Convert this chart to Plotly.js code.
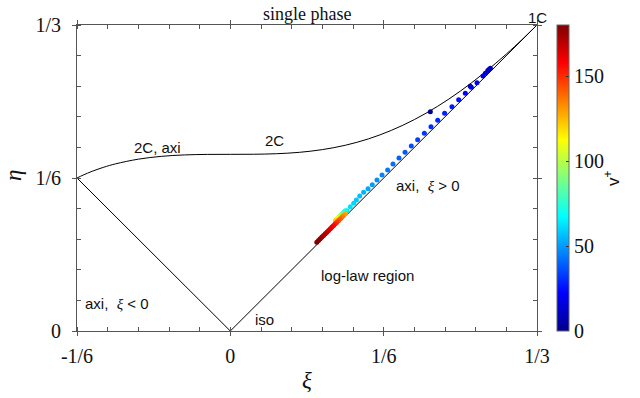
<!DOCTYPE html>
<html>
<head>
<meta charset="utf-8">
<script src="https://cdn.plot.ly/plotly-3.0.1.min.js"></script>
<style>html,body{margin:0;padding:0;background:#fff;}#chart{width:640px;height:398px;}</style>
</head>
<body>
<div id="chart"></div>
<script>
// Two-component limit curve
const xi2C  = [-0.1667,-0.1600,-0.1500,-0.1375,-0.1250,-0.1000,-0.0750,-0.0500,-0.0250,0.0000,0.0250,0.0500,0.0750,0.1000,0.1250,0.1500,0.1750,0.2000,0.2250,0.2500,0.2750,0.3000,0.3167,0.3333];
const eta2C = [0.16667,0.16984,0.17403,0.17843,0.18202,0.18718,0.19025,0.19180,0.19237,0.19245,0.19253,0.19310,0.19463,0.19758,0.20234,0.20925,0.21853,0.23030,0.24458,0.26132,0.28041,0.30172,0.31709,0.33333];
// Axisymmetric boundaries
const xiAxiNeg  = [-1/6, 0];
const etaAxiNeg = [1/6, 0];
const xiAxiPos  = [0, 1/3];
const etaAxiPos = [0, 1/3];
// Data points (ordered by v+)
const vPlus = [0.5,3,8,10,12,14,16,19,21,23,25,27,28,29,30,32,34,36,38,40,42,44,46,48,50,52,54,56,58,60,62,64,
  68,74,80,86,92,98,104,110,116,122,
  128,132,136,140,144,148,152,156,159,162,165,168,170,172,174,176,178,180];
const xiPts = [0.2174,0.2608,0.2826,0.2810,0.2797,0.2772,0.2746,0.2681,0.2620,0.2554,0.2482,0.2409,0.2329,0.2254,0.2181,0.2109,0.2036,0.1967,0.1899,0.1833,0.1768,0.1710,0.1649,0.1594,0.1543,0.1497,0.1449,0.1406,0.1370,0.1341,0.1304,0.1268,
  0.1250,0.1238,0.1226,0.1214,0.1202,0.1190,0.1178,0.1166,0.1154,0.1142,
  0.1249,0.1231,0.1213,0.1195,0.1177,0.1158,0.1140,0.1122,0.1104,0.1086,0.1067,0.1049,0.1031,0.1013,0.0995,0.0976,0.0958,0.0940];
const etaPts = [0.2389,0.2667,0.2862,0.2848,0.2836,0.2807,0.2778,0.2705,0.2655,0.2589,0.2520,0.2443,0.2371,0.2295,0.2225,0.2153,0.2084,0.2015,0.1946,0.1885,0.1819,0.1754,0.1699,0.1645,0.1594,0.1550,0.1511,0.1471,0.1427,0.1391,0.1354,0.1311,
  0.1310,0.1298,0.1286,0.1274,0.1262,0.1250,0.1238,0.1226,0.1214,0.1202,
  0.1277,0.1259,0.1241,0.1223,0.1205,0.1186,0.1168,0.1150,0.1132,0.1114,0.1095,0.1077,0.1059,0.1041,0.1023,0.1004,0.0986,0.0968];
// Tick labels
const tickVals = [-1/6, 0, 1/6, 1/3];
const xTickText = ['-1/6','0','1/6','1/3'];
const yTickVals = [0, 1/6, 1/3];
const yTickText = ['0','1/6','1/3'];
const cbTicks = [0, 50, 100, 150];

const jet = [[0,'rgb(0,0,143)'],[0.125,'rgb(0,0,255)'],[0.375,'rgb(0,255,255)'],[0.625,'rgb(255,255,0)'],[0.875,'rgb(255,0,0)'],[1,'rgb(128,0,0)']];
const serif = 'Liberation Serif, Times New Roman, serif';
const sans = 'Liberation Sans, Arial, sans-serif';
const txt = '#111';

const traces = [
  {x: xi2C, y: eta2C, mode:'lines', line:{color:'#000', width:1, shape:'spline'}, showlegend:false, hoverinfo:'skip'},
  {x: xiAxiNeg, y: etaAxiNeg, mode:'lines', line:{color:'#000', width:1}, showlegend:false},
  {x: xiAxiPos, y: etaAxiPos, mode:'lines', line:{color:'#000', width:1}, showlegend:false},
  {x: xiPts, y: etaPts, mode:'markers', showlegend:false,
   marker:{size:5, color:vPlus, cmin:0, cmax:180, colorscale:jet, line:{width:0},
     colorbar:{x:1.0435, xanchor:'left', y:0.5, yanchor:'middle', len:1, lenmode:'fraction', thickness:12,
       outlinewidth:1, outlinecolor:'#666', tickvals:cbTicks, ticks:'inside', ticklen:3, tickcolor:'#333',
       tickfont:{family:serif, size:20, color:txt}, xpad:0, ypad:0}}}
];

const axisCommon = {showgrid:false, zeroline:false, showline:true, linecolor:'#555', linewidth:1,
  mirror:'ticks', ticks:'outside', ticklen:4, tickcolor:'#555', tickfont:{family:serif, size:20, color:txt}};

const layout = {
  width:640, height:398, margin:{l:77, r:103, t:25, b:67},
  paper_bgcolor:'#fff', plot_bgcolor:'#fff',
  xaxis: Object.assign({}, axisCommon, {range:[-1/6, 1/3], tickvals:tickVals, ticktext:xTickText, ticklabelstandoff:3,
    minor:{ticks:'inside', ticklen:4, dtick:1/30, tick0:-1/6, tickcolor:'#555'}}),
  yaxis: Object.assign({}, axisCommon, {range:[0, 1/3], tickvals:yTickVals, ticktext:yTickText, ticklabelstandoff:7,
    minor:{ticks:'inside', ticklen:4, dtick:1/30, tick0:0, tickcolor:'#555'}}),
  annotations:[
    {text:'single phase', xref:'paper', yref:'paper', x:0.5, y:1, yanchor:'bottom', yshift:-1, showarrow:false, font:{family:serif, size:18, color:txt}},
    {text:'1C', xref:'x', yref:'paper', x:1/3, y:1, yanchor:'bottom', yshift:-3, showarrow:false, font:{family:sans, size:15, color:txt}},
    {text:'2C, axi', x:-0.0793, y:0.2004, showarrow:false, font:{family:sans, size:15, color:txt}},
    {text:'2C', x:0.0478, y:0.2080, showarrow:false, font:{family:sans, size:15, color:txt}},
    {text:'axi,&#160; <span style="font-family:Liberation Serif"><i>ξ</i></span> &gt; 0', x:0.2152, y:0.1580, showarrow:false, font:{family:sans, size:15, color:txt}},
    {text:'log-law region', x:0.1489, y:0.0610, showarrow:false, font:{family:sans, size:15, color:txt}},
    {text:'iso', x:0.0370, y:0.0130, showarrow:false, font:{family:sans, size:15, color:txt}},
    {text:'axi,&#160; <span style="font-family:Liberation Serif"><i>ξ</i></span> &lt; 0', x:-0.1230, y:0.0300, showarrow:false, font:{family:sans, size:15, color:txt}},
    {text:'<i>ξ</i>', xref:'paper', yref:'paper', x:0.5, y:0, yanchor:'middle', yshift:-49, showarrow:false, font:{family:serif, size:23, color:txt}},
    {text:'<i>η</i>', xref:'paper', yref:'paper', x:0, xanchor:'center', xshift:-64, y:0.5, yshift:2, textangle:-90, showarrow:false, font:{family:serif, size:23, color:txt}},
    {text:'v<sup>+</sup>', xref:'paper', yref:'paper', x:1, xshift:88, y:0.5, textangle:-90, showarrow:false, font:{family:sans, size:17, color:txt}}
  ]
};

Plotly.newPlot('chart', traces, layout, {displayModeBar:false, staticPlot:true});
</script>
</body>
</html>
